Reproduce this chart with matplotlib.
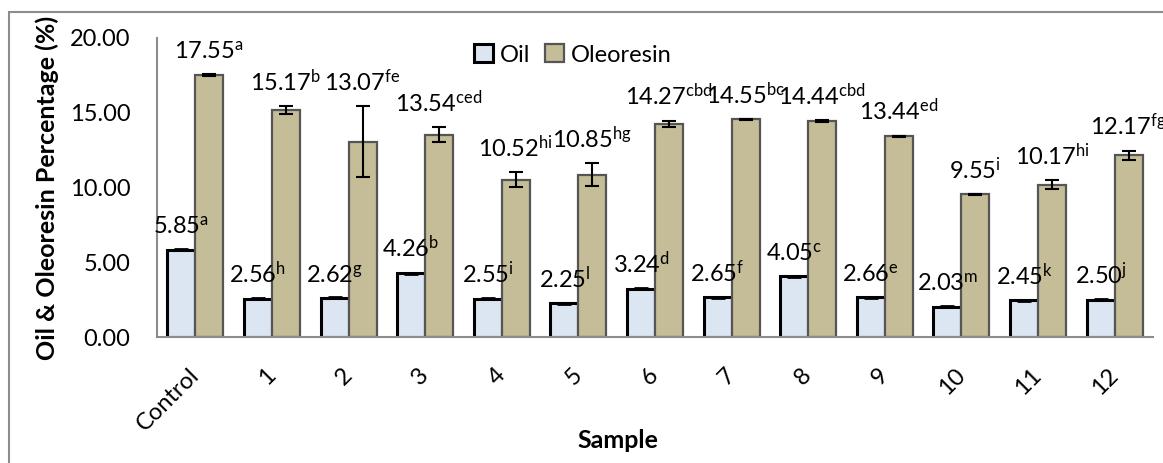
import numpy as np
import matplotlib
matplotlib.use("Agg")
import matplotlib.pyplot as plt
from matplotlib.patches import Rectangle

plt.rcParams['font.family'] = ['Lato', 'DejaVu Sans']
plt.rcParams['mathtext.fontset'] = 'custom'
plt.rcParams['mathtext.rm'] = 'Lato'
plt.rcParams['mathtext.it'] = 'Lato'

# data
samples = ['Control', '1', '2', '3', '4', '5', '6', '7', '8', '9', '10', '11', '12']
oil = [5.85, 2.56, 2.62, 4.26, 2.55, 2.25, 3.24, 2.65, 4.05, 2.66, 2.03, 2.45, 2.50]
oil_err = [0.05, 0.03, 0.03, 0.05, 0.03, 0.03, 0.03, 0.04, 0.02, 0.04, 0.04, 0.03, 0.03]
oil_sig = ['a', 'h', 'g', 'b', 'i', 'l', 'd', 'f', 'c', 'e', 'm', 'k', 'j']
oleo = [17.55, 15.17, 13.07, 13.54, 10.52, 10.85, 14.27, 14.55, 14.44, 13.44, 9.55, 10.17, 12.17]
oleo_err = [0.06, 0.28, 2.35, 0.5, 0.5, 0.78, 0.2, 0.05, 0.08, 0.03, 0.03, 0.3, 0.3]
oleo_sig = ['a', 'b', 'fe', 'ced', 'hi', 'hg', 'cbd', 'bc', 'cbd', 'ed', 'i', 'hi', 'fg']

W, H = 1163, 463
fig = plt.figure(figsize=(W / 100, H / 100), dpi=100)
ax = fig.add_axes([157 / W, 1 - 337 / H, 996 / W, 299 / H])

# chart area border (only top and left visible in the crop)
fig.patches.append(Rectangle((9 / W, -0.1), 1.2, 1 - 12 / H + 0.1, transform=fig.transFigure,
                             fill=False, edgecolor='#8c8c8c', linewidth=1.5))

x = np.arange(len(samples))
w = 0.365
ax.bar(x - w / 2, oil, w, color='#dce6f2', edgecolor='black', linewidth=2.2, label='Oil', zorder=2)
ax.bar(x + w / 2, oleo, w, color='#c4bd97', edgecolor='#555555', linewidth=1.6, label='Oleoresin', zorder=2)
ax.errorbar(x - w / 2, oil, yerr=oil_err, fmt='none', ecolor='black', elinewidth=1.5, capsize=5, capthick=2, zorder=3)
ax.errorbar(x + w / 2, oleo, yerr=oleo_err, fmt='none', ecolor='black', elinewidth=1.5, capsize=5, capthick=1.5, zorder=3)

fs = 17
for i in range(len(samples)):
    ax.annotate(f"{oil[i]:.2f}$^{{\\mathrm{{{oil_sig[i]}}}}}$", (x[i] - w / 2, oil[i] + oil_err[i]),
                xytext=(0, 11), textcoords='offset points', ha='center', va='baseline', fontsize=fs, zorder=4)
    ax.annotate(f"{oleo[i]:.2f}$^{{\\mathrm{{{oleo_sig[i]}}}}}$", (x[i] + w / 2, oleo[i] + oleo_err[i]),
                xytext=(0, 11), textcoords='offset points', ha='center', va='baseline', fontsize=fs, zorder=4)

ax.set_xlim(-0.5, len(samples) - 0.5)
ax.set_ylim(0, 20)
ax.set_yticks([0, 5, 10, 15, 20])
ax.set_yticklabels([f"{v:.2f}" for v in [0, 5, 10, 15, 20]])
ax.set_xticks(x)
ax.set_xticklabels(samples, rotation=45, ha='right', va='center', rotation_mode='anchor')
ax.tick_params(axis='y', length=0, pad=19, labelsize=fs)
ax.tick_params(axis='x', length=0, pad=25, labelsize=fs)

for s in ['top', 'right']:
    ax.spines[s].set_visible(False)
for s in ['left', 'bottom']:
    ax.spines[s].set_color('#8c8c8c')
    ax.spines[s].set_linewidth(1.5)

fig.text(47 / W, 1 - 188 / H, 'Oil & Oleoresin Percentage (%)', rotation=90, ha='center', va='center',
         fontsize=18, fontweight='bold')
fig.text(618 / W, 1 - 440 / H, 'Sample', ha='center', va='center', fontsize=18, fontweight='bold')

ax.legend(loc='center', bbox_to_anchor=(573 / W, 1 - 55 / H), bbox_transform=fig.transFigure, ncol=2,
          frameon=False, fontsize=fs, handlelength=0.8, handleheight=0.8, handletextpad=0.3,
          columnspacing=0.6, borderpad=0)

fig.savefig('out.png', dpi=100)
